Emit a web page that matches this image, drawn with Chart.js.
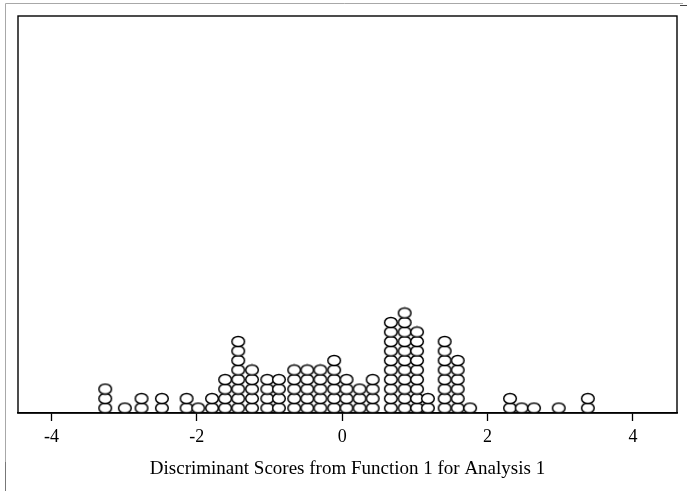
<!DOCTYPE html>
<html>
<head>
<meta charset="utf-8">
<script src="https://cdn.jsdelivr.net/npm/chart.js@4"></script>
<style>
    html, body { margin: 0; padding: 0; background: #fff; }
    canvas { display: block; }
</style>
</head>
<body>
<canvas id="dotChart" width="687" height="491"></canvas>
<script>
// Dot plot: bin centres (discriminant score) and number of cases stacked in each
const scoreBins = [-3.26, -2.99, -2.76, -2.48, -2.14, -1.98, -1.79, -1.61, -1.43, -1.24,
                   -1.03, -0.87, -0.66, -0.48, -0.30, -0.11, 0.06, 0.24, 0.42, 0.67,
                   0.86, 1.03, 1.18, 1.41, 1.59, 1.76, 2.31, 2.47, 2.64, 2.98, 3.38];
const binCounts = [3, 1, 2, 2, 2, 1, 2, 4, 8, 5,
                   4, 4, 5, 5, 5, 6, 4, 3, 4, 10,
                   11, 9, 2, 8, 6, 1, 2, 1, 1, 1, 2];
const tickValues = [-4, -2, 0, 2, 4];
const axisTitle = 'Discriminant Scores from Function 1 for Analysis 1';

document.addEventListener('DOMContentLoaded', () => {
    // one point per case, stacked upward in its bin
    const points = [];
    scoreBins.forEach((x, i) => {
        for (let k = 1; k <= binCounts[i]; k++) points.push({ x: x, y: k });
    });

    // open ellipse marker (a bit wider than tall, like the original)
    const marker = document.createElement('canvas');
    marker.width = 16;
    marker.height = 13;
    const mctx = marker.getContext('2d');
    mctx.beginPath();
    mctx.ellipse(8, 6.5, 6.3, 5.1, 0, 0, Math.PI * 2);
    mctx.fillStyle = '#fff';
    mctx.fill();
    mctx.lineWidth = 1.5;
    mctx.strokeStyle = '#000';
    mctx.stroke();

    const framePlugin = {
        id: 'frame',
        beforeDraw(chart) {
            const c = chart.ctx;
            c.save();
            // faint outer border of the original picture
            c.strokeStyle = '#a8a8a8';
            c.lineWidth = 1;
            c.beginPath();
            c.moveTo(5.5, 491);
            c.lineTo(5.5, 3.5);
            c.lineTo(683, 3.5);
            c.stroke();
            c.strokeStyle = '#777';
            c.beginPath();
            c.moveTo(5.5, 462);
            c.lineTo(5.5, 491);
            c.stroke();
            c.strokeStyle = '#444';
            c.beginPath();
            c.moveTo(680, 5.5);
            c.lineTo(687, 5.5);
            c.stroke();
            c.restore();
        },
        afterDraw(chart) {
            const a = chart.chartArea;
            const c = chart.ctx;
            c.save();
            c.strokeStyle = '#000';
            c.lineWidth = 1.4;
            c.strokeRect(a.left, a.top, a.right - a.left, a.bottom - a.top);
            c.restore();
        }
    };

    new Chart(document.getElementById('dotChart'), {
        type: 'scatter',
        data: {
            datasets: [{
                data: points,
                pointStyle: marker,
                pointRadius: 6,
                pointHoverRadius: 6
            }]
        },
        options: {
            responsive: false,
            animation: false,
            devicePixelRatio: 1,
            layout: { padding: { left: 18, top: 16, right: 10, bottom: 0 } },
            plugins: {
                legend: { display: false },
                tooltip: { enabled: false }
            },
            scales: {
                x: {
                    type: 'linear',
                    min: -4.46,
                    max: 4.607,
                    afterBuildTicks: axis => { axis.ticks = tickValues.map(v => ({ value: v })); },
                    afterFit: scale => { scale.height = 78; },
                    grid: {
                        drawOnChartArea: false,
                        drawTicks: true,
                        tickLength: 8,
                        tickWidth: 1.3,
                        tickColor: '#000'
                    },
                    border: { display: true, color: '#000', width: 1.4 },
                    ticks: {
                        color: '#000',
                        padding: 5,
                        maxRotation: 0,
                        font: { family: 'Liberation Serif', size: 18 }
                    },
                    title: {
                        display: true,
                        text: axisTitle,
                        color: '#000',
                        padding: { top: 0, bottom: 11 },
                        font: { family: 'Liberation Serif', size: 19 }
                    }
                },
                y: {
                    display: false,
                    min: 0.474,
                    max: 42.26
                }
            }
        },
        plugins: [framePlugin]
    });
});
</script>
</body>
</html>
